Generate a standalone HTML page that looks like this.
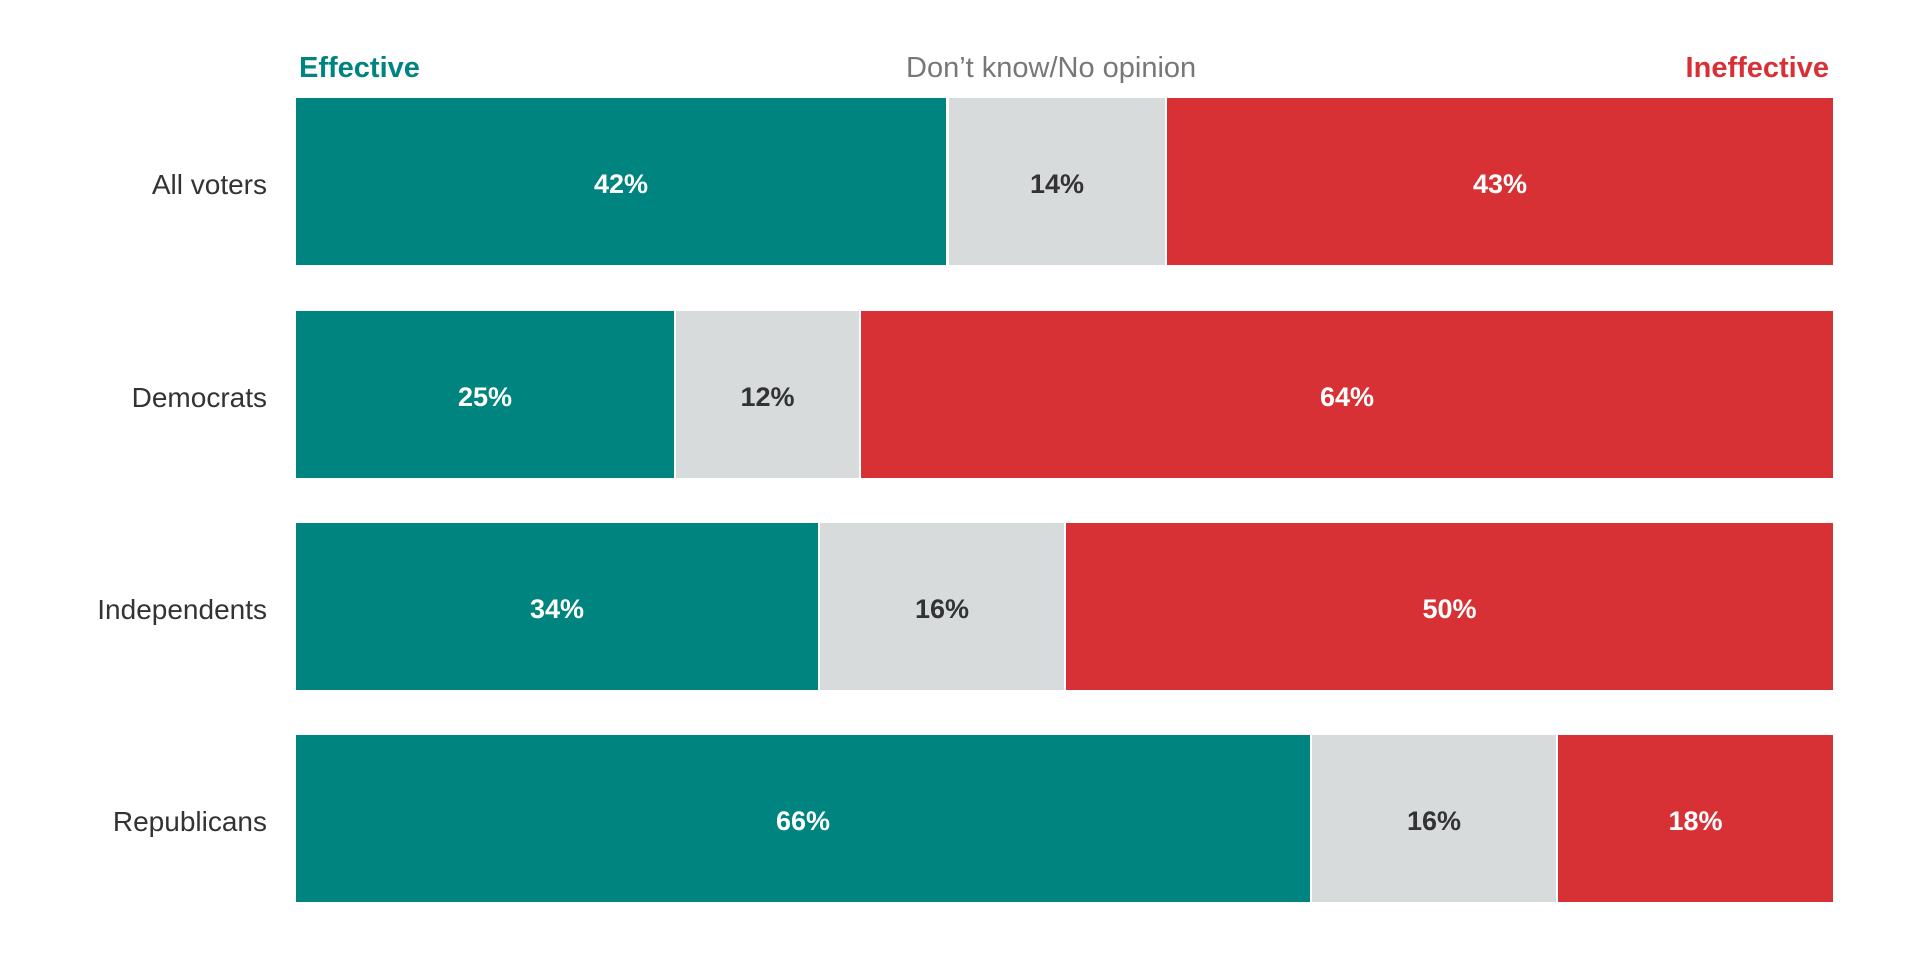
<!DOCTYPE html>
<html><head><meta charset="utf-8"><style>
body{margin:0;width:1920px;height:960px;background:#fff;position:relative;font-family:"Liberation Sans",sans-serif;overflow:hidden}
.s{position:absolute;display:flex;align-items:center;justify-content:center;font-weight:bold;font-size:27px;box-sizing:border-box;padding-top:6px}
.t{background:#00847f;color:#fff}.g{background:#d7dbdc;color:#333}.r{background:#d73135;color:#fff}
.l{position:absolute;right:1653px;font-size:28px;color:#333;transform:translateY(-50%)}
.h{position:absolute;top:52px;font-size:29px}
</style></head><body>
<div class="h" style="left:299px;color:#00847f;font-weight:bold">Effective</div>
<div class="h" style="left:906px;color:#777">Don’t know/No opinion</div>
<div class="h" style="right:91px;color:#d73135;font-weight:bold">Ineffective</div>

<div class="l" style="top:185px">All voters</div>
<div class="l" style="top:398px">Democrats</div>
<div class="l" style="top:610px">Independents</div>
<div class="l" style="top:822px">Republicans</div>

<div class="s t" style="left:296px;width:650px;top:98px;height:167px">42%</div>
<div class="s g" style="left:949px;width:216px;top:98px;height:167px">14%</div>
<div class="s r" style="left:1167px;width:666px;top:98px;height:167px">43%</div>

<div class="s t" style="left:296px;width:378px;top:311px;height:167px">25%</div>
<div class="s g" style="left:676px;width:183px;top:311px;height:167px">12%</div>
<div class="s r" style="left:861px;width:972px;top:311px;height:167px">64%</div>

<div class="s t" style="left:296px;width:522px;top:523px;height:167px">34%</div>
<div class="s g" style="left:820px;width:244px;top:523px;height:167px">16%</div>
<div class="s r" style="left:1066px;width:767px;top:523px;height:167px">50%</div>

<div class="s t" style="left:296px;width:1014px;top:735px;height:167px">66%</div>
<div class="s g" style="left:1312px;width:244px;top:735px;height:167px">16%</div>
<div class="s r" style="left:1558px;width:275px;top:735px;height:167px">18%</div>
</body></html>
